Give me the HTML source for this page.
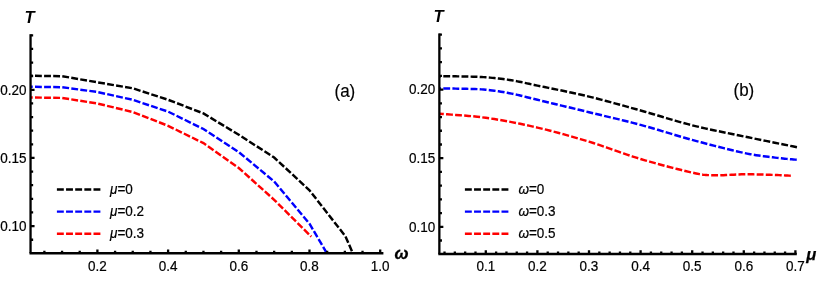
<!DOCTYPE html>
<html><head><meta charset="utf-8"><title>plot</title>
<style>html,body{margin:0;padding:0;background:#fff}svg{display:block;will-change:transform}</style>
</head><body>
<svg width="817" height="281" viewBox="0 0 817 281">
<rect width="817" height="281" fill="#fff"/>
<defs><clipPath id="cl"><rect x="30.4" y="30" width="360" height="223.4"/></clipPath><clipPath id="cr"><rect x="439.2" y="30" width="370" height="224"/></clipPath></defs>
<path d="M25.90,75.70 L62.05,76.20 L97.40,82.30 L132.75,88.30 L168.10,99.80 L203.45,113.40 L238.80,134.80 L274.15,157.50 L309.50,190.30 L345.35,236.20 L353.20,254.00" fill="none" stroke="#000" stroke-width="2.45" stroke-dasharray="6.85 2.25" clip-path="url(#cl)"/>
<path d="M25.90,86.70 L62.05,87.20 L97.40,92.00 L132.75,99.80 L168.10,111.60 L203.45,129.00 L238.80,152.10 L274.15,181.50 L309.50,223.70 L327.30,254.00" fill="none" stroke="#0000ff" stroke-width="2.45" stroke-dasharray="6.85 2.25" clip-path="url(#cl)"/>
<path d="M25.90,97.40 L62.05,97.90 L97.40,103.50 L132.75,112.00 L168.10,125.80 L203.45,143.10 L238.80,168.00 L274.15,199.80 L311.30,236.70" fill="none" stroke="#ff0000" stroke-width="2.45" stroke-dasharray="6.85 2.25" clip-path="url(#cl)"/>
<path d="M434.20,76.20 L436.35,76.21 L438.50,76.23 L440.65,76.23 L442.80,76.24 L444.95,76.25 L447.10,76.26 L449.25,76.27 L451.40,76.28 L453.55,76.30 L455.70,76.33 L457.85,76.36 L460.00,76.40 L462.15,76.44 L464.30,76.49 L466.45,76.53 L468.60,76.57 L470.75,76.62 L472.90,76.68 L475.05,76.74 L477.20,76.82 L479.35,76.91 L481.50,77.02 L483.65,77.15 L485.80,77.30 L487.95,77.47 L490.10,77.65 L492.25,77.85 L494.40,78.06 L496.55,78.28 L498.70,78.52 L500.85,78.78 L503.00,79.05 L505.15,79.34 L507.30,79.64 L509.45,79.96 L511.60,80.30 L513.67,80.64 L515.60,80.98 L517.45,81.33 L519.24,81.69 L521.04,82.06 L522.89,82.45 L524.82,82.87 L526.89,83.33 L529.14,83.82 L531.61,84.36 L534.35,84.95 L537.40,85.60 L540.80,86.31 L544.51,87.07 L548.49,87.88 L552.69,88.74 L557.07,89.63 L561.59,90.56 L566.19,91.52 L570.84,92.51 L575.50,93.51 L580.10,94.53 L584.62,95.56 L589.00,96.60 L593.30,97.65 L597.60,98.74 L601.90,99.85 L606.20,100.99 L610.50,102.14 L614.80,103.31 L619.10,104.50 L623.40,105.69 L627.70,106.89 L632.00,108.10 L636.30,109.30 L640.60,110.50 L644.90,111.71 L649.20,112.96 L653.50,114.22 L657.80,115.50 L662.10,116.79 L666.40,118.08 L670.70,119.35 L675.00,120.61 L679.30,121.84 L683.60,123.04 L687.90,124.19 L692.20,125.30 L696.49,126.36 L700.78,127.37 L705.06,128.34 L709.34,129.29 L713.62,130.20 L717.90,131.10 L722.19,131.98 L726.48,132.86 L730.79,133.73 L735.11,134.61 L739.44,135.50 L743.80,136.40 L748.18,137.31 L752.57,138.22 L756.99,139.12 L761.41,140.02 L765.85,140.92 L770.30,141.82 L774.75,142.72 L779.21,143.61 L783.66,144.51 L788.11,145.40 L792.56,146.30 L797.00,147.20" fill="none" stroke="#000" stroke-width="2.45" stroke-dasharray="6.85 2.25" clip-path="url(#cr)"/>
<path d="M434.20,88.50 L436.35,88.51 L438.50,88.52 L440.65,88.53 L442.80,88.54 L444.95,88.54 L447.10,88.55 L449.25,88.56 L451.40,88.57 L453.55,88.59 L455.70,88.62 L457.85,88.66 L460.00,88.70 L462.15,88.75 L464.30,88.79 L466.45,88.83 L468.60,88.87 L470.75,88.91 L472.90,88.97 L475.05,89.04 L477.20,89.12 L479.35,89.23 L481.50,89.36 L483.65,89.51 L485.80,89.70 L487.95,89.92 L490.10,90.16 L492.25,90.42 L494.40,90.70 L496.55,91.00 L498.70,91.33 L500.85,91.67 L503.00,92.02 L505.15,92.40 L507.30,92.78 L509.45,93.19 L511.60,93.60 L513.67,94.02 L515.60,94.43 L517.45,94.84 L519.24,95.27 L521.04,95.71 L522.89,96.17 L524.82,96.66 L526.89,97.19 L529.14,97.76 L531.61,98.38 L534.35,99.06 L537.40,99.80 L540.80,100.62 L544.51,101.50 L548.49,102.46 L552.69,103.46 L557.07,104.51 L561.59,105.59 L566.19,106.70 L570.84,107.81 L575.50,108.93 L580.10,110.04 L584.62,111.14 L589.00,112.20 L593.30,113.24 L597.60,114.27 L601.90,115.30 L606.20,116.33 L610.50,117.35 L614.80,118.39 L619.10,119.43 L623.40,120.49 L627.70,121.56 L632.00,122.65 L636.30,123.76 L640.60,124.90 L644.90,126.08 L649.20,127.29 L653.50,128.54 L657.80,129.80 L662.10,131.09 L666.40,132.38 L670.70,133.68 L675.00,134.96 L679.30,136.24 L683.60,137.49 L687.90,138.71 L692.20,139.90 L696.56,141.08 L701.04,142.28 L705.58,143.49 L710.16,144.69 L714.73,145.88 L719.27,147.04 L723.75,148.17 L728.11,149.26 L732.33,150.28 L736.38,151.24 L740.21,152.11 L743.80,152.90 L747.14,153.59 L750.29,154.19 L753.25,154.72 L756.05,155.17 L758.71,155.57 L761.25,155.93 L763.69,156.24 L766.04,156.53 L768.32,156.80 L770.57,157.06 L772.79,157.32 L775.00,157.60 L777.16,157.87 L779.20,158.11 L781.15,158.33 L783.01,158.52 L784.82,158.69 L786.58,158.86 L788.30,159.01 L790.01,159.16 L791.72,159.31 L793.44,159.46 L795.20,159.62 L797.00,159.80" fill="none" stroke="#0000ff" stroke-width="2.45" stroke-dasharray="6.85 2.25" clip-path="url(#cr)"/>
<path d="M434.20,113.30 L438.50,113.66 L442.80,113.99 L447.10,114.30 L451.40,114.60 L455.70,114.91 L460.00,115.22 L464.30,115.55 L468.60,115.91 L472.90,116.30 L477.20,116.74 L481.50,117.24 L485.80,117.80 L490.10,118.42 L494.40,119.08 L498.70,119.78 L503.00,120.51 L507.30,121.29 L511.60,122.10 L515.90,122.94 L520.20,123.82 L524.50,124.72 L528.80,125.66 L533.10,126.62 L537.40,127.60 L541.70,128.61 L546.00,129.66 L550.30,130.75 L554.60,131.86 L558.90,133.01 L563.20,134.18 L567.50,135.38 L571.80,136.60 L576.10,137.85 L580.40,139.12 L584.70,140.40 L589.00,141.70 L593.30,143.04 L597.60,144.44 L601.90,145.89 L606.20,147.37 L610.50,148.87 L614.80,150.38 L619.10,151.89 L623.40,153.39 L627.70,154.86 L632.00,156.29 L636.30,157.68 L640.60,159.00 L644.99,160.30 L649.54,161.61 L654.20,162.92 L658.90,164.21 L663.61,165.48 L668.26,166.71 L672.81,167.89 L677.21,169.01 L681.40,170.05 L685.32,171.01 L688.94,171.86 L692.20,172.60 L695.03,173.22 L697.47,173.72 L699.56,174.13 L701.38,174.44 L702.99,174.69 L704.46,174.86 L705.86,174.99 L707.24,175.08 L708.69,175.14 L710.25,175.19 L712.00,175.24 L714.00,175.30 L716.21,175.34 L718.55,175.33 L720.97,175.28 L723.47,175.19 L726.03,175.07 L728.62,174.94 L731.23,174.80 L733.84,174.66 L736.42,174.53 L738.95,174.42 L741.42,174.34 L743.80,174.30 L746.13,174.29 L748.44,174.29 L750.73,174.31 L753.00,174.34 L755.25,174.38 L757.46,174.43 L759.65,174.49 L761.80,174.55 L763.91,174.61 L765.99,174.68 L768.02,174.74 L770.00,174.80 L771.92,174.86 L773.78,174.93 L775.58,175.00 L777.33,175.07 L779.05,175.15 L780.74,175.23 L782.41,175.30 L784.07,175.39 L785.73,175.47 L787.40,175.55 L789.08,175.62 L790.80,175.70" fill="none" stroke="#ff0000" stroke-width="2.45" stroke-dasharray="6.85 2.25" stroke-dashoffset="-2.77" clip-path="url(#cr)"/>
<path d="M30.55,34.2 V253.2" stroke="#000" stroke-width="2.3" fill="none"/>
<path d="M29.5,253.2 H383.40000000000003" stroke="#000" stroke-width="2.45" fill="none"/>
<path d="M30.55,239.73 h2.6 M30.55,226.10 h4.0 M30.55,212.47 h2.6 M30.55,198.84 h2.6 M30.55,185.21 h2.6 M30.55,171.58 h2.6 M30.55,157.95 h4.0 M30.55,144.32 h2.6 M30.55,130.69 h2.6 M30.55,117.06 h2.6 M30.55,103.43 h2.6 M30.55,89.80 h4.0 M30.55,76.17 h2.6 M30.55,62.54 h2.6 M30.55,48.91 h2.6 M30.55,35.28 h2.6 M97.40,253.2 v-3.7 M168.10,253.2 v-3.7 M238.80,253.2 v-3.7 M309.50,253.2 v-3.7 M380.20,253.2 v-3.7 M44.38,253.2 v-2.4 M62.05,253.2 v-2.4 M79.72,253.2 v-2.4 M115.08,253.2 v-2.4 M132.75,253.2 v-2.4 M150.43,253.2 v-2.4 M185.78,253.2 v-2.4 M203.45,253.2 v-2.4 M221.12,253.2 v-2.4 M256.48,253.2 v-2.4 M274.15,253.2 v-2.4 M291.83,253.2 v-2.4 M327.17,253.2 v-2.4 M344.85,253.2 v-2.4 M362.52,253.2 v-2.4" stroke="#000" stroke-width="2.3" fill="none"/>
<path d="M439.35,33.4 V253.9" stroke="#000" stroke-width="2.3" fill="none"/>
<path d="M438.3,253.9 H796.8" stroke="#000" stroke-width="2.45" fill="none"/>
<path d="M439.35,240.52 h2.6 M439.35,226.80 h4.0 M439.35,213.08 h2.6 M439.35,199.36 h2.6 M439.35,185.64 h2.6 M439.35,171.92 h2.6 M439.35,158.20 h4.0 M439.35,144.48 h2.6 M439.35,130.76 h2.6 M439.35,117.04 h2.6 M439.35,103.32 h2.6 M439.35,89.60 h4.0 M439.35,75.88 h2.6 M439.35,62.16 h2.6 M439.35,48.44 h2.6 M439.35,34.72 h2.6 M485.80,253.9 v-3.7 M537.40,253.9 v-3.7 M589.00,253.9 v-3.7 M640.60,253.9 v-3.7 M692.20,253.9 v-3.7 M743.80,253.9 v-3.7 M795.40,253.9 v-3.7 M444.52,253.9 v-2.4 M454.84,253.9 v-2.4 M465.16,253.9 v-2.4 M475.48,253.9 v-2.4 M496.12,253.9 v-2.4 M506.44,253.9 v-2.4 M516.76,253.9 v-2.4 M527.08,253.9 v-2.4 M547.72,253.9 v-2.4 M558.04,253.9 v-2.4 M568.36,253.9 v-2.4 M578.68,253.9 v-2.4 M599.32,253.9 v-2.4 M609.64,253.9 v-2.4 M619.96,253.9 v-2.4 M630.28,253.9 v-2.4 M650.92,253.9 v-2.4 M661.24,253.9 v-2.4 M671.56,253.9 v-2.4 M681.88,253.9 v-2.4 M702.52,253.9 v-2.4 M712.84,253.9 v-2.4 M723.16,253.9 v-2.4 M733.48,253.9 v-2.4 M754.12,253.9 v-2.4 M764.44,253.9 v-2.4 M774.76,253.9 v-2.4 M785.08,253.9 v-2.4" stroke="#000" stroke-width="2.3" fill="none"/>
<text transform="translate(97.4,270.7) scale(1,1.08)" font-family="Liberation Sans, sans-serif" font-size="13.5" text-anchor="middle" fill="#000" stroke="#000" stroke-width="0.2" >0.2</text>
<text transform="translate(168.1,270.7) scale(1,1.08)" font-family="Liberation Sans, sans-serif" font-size="13.5" text-anchor="middle" fill="#000" stroke="#000" stroke-width="0.2" >0.4</text>
<text transform="translate(238.8,270.7) scale(1,1.08)" font-family="Liberation Sans, sans-serif" font-size="13.5" text-anchor="middle" fill="#000" stroke="#000" stroke-width="0.2" >0.6</text>
<text transform="translate(309.5,270.7) scale(1,1.08)" font-family="Liberation Sans, sans-serif" font-size="13.5" text-anchor="middle" fill="#000" stroke="#000" stroke-width="0.2" >0.8</text>
<text transform="translate(380.2,270.7) scale(1,1.08)" font-family="Liberation Sans, sans-serif" font-size="13.5" text-anchor="middle" fill="#000" stroke="#000" stroke-width="0.2" >1.0</text>
<text transform="translate(485.8,271.0) scale(1,1.08)" font-family="Liberation Sans, sans-serif" font-size="13.5" text-anchor="middle" fill="#000" stroke="#000" stroke-width="0.2" >0.1</text>
<text transform="translate(537.4,271.0) scale(1,1.08)" font-family="Liberation Sans, sans-serif" font-size="13.5" text-anchor="middle" fill="#000" stroke="#000" stroke-width="0.2" >0.2</text>
<text transform="translate(589.0,271.0) scale(1,1.08)" font-family="Liberation Sans, sans-serif" font-size="13.5" text-anchor="middle" fill="#000" stroke="#000" stroke-width="0.2" >0.3</text>
<text transform="translate(640.6,271.0) scale(1,1.08)" font-family="Liberation Sans, sans-serif" font-size="13.5" text-anchor="middle" fill="#000" stroke="#000" stroke-width="0.2" >0.4</text>
<text transform="translate(692.2,271.0) scale(1,1.08)" font-family="Liberation Sans, sans-serif" font-size="13.5" text-anchor="middle" fill="#000" stroke="#000" stroke-width="0.2" >0.5</text>
<text transform="translate(743.8,271.0) scale(1,1.08)" font-family="Liberation Sans, sans-serif" font-size="13.5" text-anchor="middle" fill="#000" stroke="#000" stroke-width="0.2" >0.6</text>
<text transform="translate(795.4,271.0) scale(1,1.08)" font-family="Liberation Sans, sans-serif" font-size="13.5" text-anchor="middle" fill="#000" stroke="#000" stroke-width="0.2" >0.7</text>
<text transform="translate(26.4,230.9) scale(1,1.08)" font-family="Liberation Sans, sans-serif" font-size="13.5" text-anchor="end" fill="#000" stroke="#000" stroke-width="0.2" >0.10</text>
<text transform="translate(435.2,231.6) scale(1,1.08)" font-family="Liberation Sans, sans-serif" font-size="13.5" text-anchor="end" fill="#000" stroke="#000" stroke-width="0.2" >0.10</text>
<text transform="translate(26.4,162.8) scale(1,1.08)" font-family="Liberation Sans, sans-serif" font-size="13.5" text-anchor="end" fill="#000" stroke="#000" stroke-width="0.2" >0.15</text>
<text transform="translate(435.2,163.0) scale(1,1.08)" font-family="Liberation Sans, sans-serif" font-size="13.5" text-anchor="end" fill="#000" stroke="#000" stroke-width="0.2" >0.15</text>
<text transform="translate(26.4,94.6) scale(1,1.08)" font-family="Liberation Sans, sans-serif" font-size="13.5" text-anchor="end" fill="#000" stroke="#000" stroke-width="0.2" >0.20</text>
<text transform="translate(435.2,94.4) scale(1,1.08)" font-family="Liberation Sans, sans-serif" font-size="13.5" text-anchor="end" fill="#000" stroke="#000" stroke-width="0.2" >0.20</text>
<text transform="translate(24.4,23.0) scale(1,1.0)" font-family="Liberation Sans, sans-serif" font-size="16.5" text-anchor="start" fill="#000" stroke="#000" stroke-width="0" font-weight="bold" font-style="italic">T</text>
<text transform="translate(433.4,22.3) scale(1,1.0)" font-family="Liberation Sans, sans-serif" font-size="16.5" text-anchor="start" fill="#000" stroke="#000" stroke-width="0" font-weight="bold" font-style="italic">T</text>
<text transform="translate(394.5,258.5) scale(1.02,1.0)" font-family="Liberation Sans, sans-serif" font-size="16.5" text-anchor="start" fill="#000" stroke="#000" stroke-width="0.25" font-weight="bold" font-style="italic">ω</text>
<text transform="translate(806.3,260.2) scale(1.0,1.0)" font-family="Liberation Sans, sans-serif" font-size="16.6" text-anchor="start" fill="#000" stroke="#000" stroke-width="0.25" font-weight="bold" font-style="italic">μ</text>
<text transform="translate(334.5,96.6) scale(1,1.04)" font-family="Liberation Sans, sans-serif" font-size="17" text-anchor="start" fill="#000" stroke="#000" stroke-width="0.15" >(a)</text>
<text transform="translate(733.5,96.3) scale(1,1.04)" font-family="Liberation Sans, sans-serif" font-size="17" text-anchor="start" fill="#000" stroke="#000" stroke-width="0.15" >(b)</text>
<path d="M56.9,189.4 H100.4" stroke="#000" stroke-width="2.45" stroke-dasharray="6.9 2.25" fill="none"/>
<text transform="translate(110.0,193.8) scale(1,1.08)" font-family="Liberation Sans, sans-serif" font-size="13.5" fill="#000" stroke="#000" stroke-width="0.2"><tspan font-style="italic">μ</tspan>=0</text>
<path d="M56.9,211.6 H100.4" stroke="#0000ff" stroke-width="2.45" stroke-dasharray="6.9 2.25" fill="none"/>
<text transform="translate(110.0,216.0) scale(1,1.08)" font-family="Liberation Sans, sans-serif" font-size="13.5" fill="#000" stroke="#000" stroke-width="0.2"><tspan font-style="italic">μ</tspan>=0.2</text>
<path d="M56.9,233.8 H100.4" stroke="#ff0000" stroke-width="2.45" stroke-dasharray="6.9 2.25" fill="none"/>
<text transform="translate(110.0,238.2) scale(1,1.08)" font-family="Liberation Sans, sans-serif" font-size="13.5" fill="#000" stroke="#000" stroke-width="0.2"><tspan font-style="italic">μ</tspan>=0.3</text>
<path d="M464.9,189.4 H508.4" stroke="#000" stroke-width="2.45" stroke-dasharray="6.9 2.25" fill="none"/>
<text transform="translate(518.4,193.8) scale(1,1.08)" font-family="Liberation Sans, sans-serif" font-size="13.5" fill="#000" stroke="#000" stroke-width="0.2"><tspan font-style="italic">ω</tspan>=0</text>
<path d="M464.9,211.6 H508.4" stroke="#0000ff" stroke-width="2.45" stroke-dasharray="6.9 2.25" fill="none"/>
<text transform="translate(518.4,216.0) scale(1,1.08)" font-family="Liberation Sans, sans-serif" font-size="13.5" fill="#000" stroke="#000" stroke-width="0.2"><tspan font-style="italic">ω</tspan>=0.3</text>
<path d="M464.9,233.8 H508.4" stroke="#ff0000" stroke-width="2.45" stroke-dasharray="6.9 2.25" fill="none"/>
<text transform="translate(518.4,238.2) scale(1,1.08)" font-family="Liberation Sans, sans-serif" font-size="13.5" fill="#000" stroke="#000" stroke-width="0.2"><tspan font-style="italic">ω</tspan>=0.5</text>
</svg>
</body></html>
